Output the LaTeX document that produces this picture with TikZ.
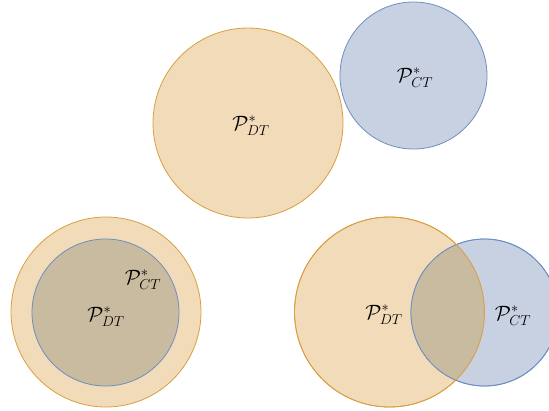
\documentclass[tikz,border=0pt]{standalone}
\usepackage{amsmath}
\definecolor{dtfill}{RGB}{242,219,185}
\definecolor{dtline}{RGB}{218,158,64}
\definecolor{ctfill}{RGB}{200,209,225}
\definecolor{ctline}{RGB}{108,142,191}
\definecolor{bothfill}{RGB}{200,187,160}
\tikzset{
  dtset/.style={fill=dtfill, draw=dtline, line width=0.8pt},
  ctset/.style={fill=ctfill, draw=ctline, line width=0.8pt},
  lbl/.style={font=\huge, inner sep=0pt}
}
\begin{document}
\begin{tikzpicture}[x=1pt, y=-1pt]
\useasboundingbox (0,0) rectangle (549,410);
\clip (0,0) rectangle (549,410);

% disjoint sets
\path[dtset] (248,123) circle (95);
\path[ctset] (413.5,75.5) circle (73.5);
\node[lbl] (dt1) at (251,126) {$\mathcal{P}^*_{DT}$};
\node[lbl] (ct1) at (415,78) {$\mathcal{P}^*_{CT}$};

% nested sets
\path[dtset] (106,312) circle (95);
\path[fill=bothfill] (105.5,312.5) circle (73.5);
\path[draw=ctline, line width=0.8pt] (105.5,312.5) circle (73.5);
\node[lbl] (ct2) at (143,280) {$\mathcal{P}^*_{CT}$};
\node[lbl] (dt2) at (106,317) {$\mathcal{P}^*_{DT}$};

% overlapping sets
\path[dtset] (389.5,312) circle (95);
\path[ctset] (484.5,312.5) circle (73.5);
\begin{scope}
  \clip (389.5,312) circle (95);
  \path[fill=bothfill] (484.5,312.5) circle (73.5);
\end{scope}
\path[draw=ctline, line width=0.8pt] (484.5,312.5) circle (73.5);
\path[draw=dtline, line width=0.8pt] (389.5,312) circle (95);
\node[lbl] (dt3) at (384,315) {$\mathcal{P}^*_{DT}$};
\node[lbl] (ct3) at (513,316) {$\mathcal{P}^*_{CT}$};
\end{tikzpicture}
\end{document}
